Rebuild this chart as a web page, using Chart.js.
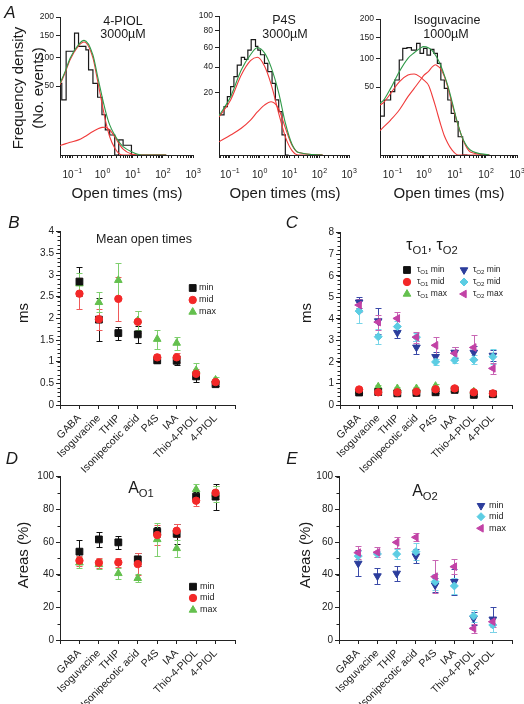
<!DOCTYPE html>
<html>
<head>
<meta charset="utf-8">
<title>Open time distributions</title>
<script src="https://cdn.jsdelivr.net/npm/chart.js@4"></script>
<style>
  body { margin: 0; width: 524px; height: 704px; position: relative; overflow: hidden; background: #fff;
         font-family: "Liberation Sans", Arial, sans-serif; color: #1a1a1a; }
  canvas { position: absolute; }
  .lbl { position: absolute; white-space: nowrap; transform: translate(-50%, -50%); line-height: 1; }
  .rot { transform: translate(-50%, -50%) rotate(-90deg); }
  .panel { font-style: italic; font-size: 17px; }
  .big { font-size: 15px; }
  sub { font-size: 0.7em; vertical-align: -0.35em; line-height: 0; }
</style>
</head>
<body>
<canvas id="histPiol" width="205" height="185" style="left:0;top:0"></canvas>
<canvas id="histP4s" width="190" height="185" style="left:170px;top:0"></canvas>
<canvas id="histIso" width="184" height="185" style="left:340px;top:0"></canvas>
<canvas id="chartB" width="262" height="280" style="left:0;top:200px"></canvas>
<canvas id="chartC" width="262" height="280" style="left:262px;top:200px"></canvas>
<canvas id="chartD" width="262" height="234" style="left:0;top:470px"></canvas>
<canvas id="chartE" width="262" height="234" style="left:262px;top:470px"></canvas>

<div class="lbl panel" style="left:10px;top:12px">A</div>
<div class="lbl" style="left:123px;top:21px;font-size:12.5px">4-PIOL</div>
<div class="lbl" style="left:123px;top:34px;font-size:12.5px">3000µM</div>
<div class="lbl" style="left:284px;top:20px;font-size:12.5px">P4S</div>
<div class="lbl" style="left:285px;top:34px;font-size:12.5px">3000µM</div>
<div class="lbl" style="left:447px;top:20px;font-size:12.5px">Isoguvacine</div>
<div class="lbl" style="left:446px;top:34px;font-size:12.5px">1000µM</div>
<div class="lbl rot big" style="left:17px;top:88px">Frequency density</div>
<div class="lbl rot big" style="left:37px;top:88px">(No. events)</div>
<div class="lbl big" style="left:127px;top:192px">Open times (ms)</div>
<div class="lbl big" style="left:285px;top:192px">Open times (ms)</div>
<div class="lbl big" style="left:449px;top:192px">Open times (ms)</div>

<div class="lbl panel" style="left:14px;top:222px">B</div>
<div class="lbl panel" style="left:292px;top:222px">C</div>
<div class="lbl" style="left:144px;top:239px;font-size:12.5px">Mean open times</div>
<div class="lbl" style="left:432px;top:245px;font-size:16px">τ<sub>O1</sub>, τ<sub>O2</sub></div>
<div class="lbl rot big" style="left:22px;top:313px">ms</div>
<div class="lbl rot big" style="left:305px;top:313px">ms</div>

<div class="lbl panel" style="left:12px;top:458px">D</div>
<div class="lbl panel" style="left:292px;top:458px">E</div>
<div class="lbl" style="left:141px;top:488px;font-size:16px">A<sub>O1</sub></div>
<div class="lbl" style="left:425px;top:491px;font-size:16px">A<sub>O2</sub></div>
<div class="lbl rot big" style="left:22px;top:555px">Areas (%)</div>
<div class="lbl rot big" style="left:304px;top:555px">Areas (%)</div>

<script>
Chart.defaults.font.family = '"Liberation Sans", Arial, sans-serif';
Chart.defaults.color = '#222';

// ---- Panel A: open time histograms (bin edges in ms, counts) and fitted curves
const decades = [-1, 0, 1, 2, 3];

const piolEdges = [0.04, 0.0458, 0.0638, 0.0867, 0.121, 0.164, 0.287, 0.352, 0.491, 0.702, 0.977, 1.26, 1.76, 2.58, 3.5, 4.88, 6.62, 9.22, 13.2];
const piolCounts = [64, 54, 32, 113, 113, 156, 124, 116, 76, 54, 35, 17, 6.6, 4.2, 0, 2.4, 1, 1];
const piolFitT = [0.04, 0.059, 0.087, 0.164, 0.25, 0.49, 0.70, 0.98, 1.26, 1.76, 2.58, 3.5, 4.88, 9.2, 20, 130];
const piolTotal = [54, 73, 99, 128, 138, 105, 65, 36, 21, 9.5, 4.2, 1.9, 0.73, 0.12, 0, 0];
const piolFast = [52, 71, 96, 125, 134, 99, 58, 28, 12.9, 3.5, 0.5, 0.03, 0, 0, 0, 0];
const piolSlow = [0.9, 1.3, 1.7, 2.4, 3.4, 5.8, 7.1, 8.0, 8.1, 6.6, 3.5, 1.45, 0.35, 0.01, 0, 0];

const p4sEdges = [0.045, 0.065, 0.084, 0.108, 0.139, 0.18, 0.245, 0.316, 0.408, 0.527, 0.736, 0.88, 1.08, 1.47, 1.90, 2.64, 3.41, 4.41, 5.70, 7.36, 9.5];
const p4sCounts = [6.3, 8.3, 12.1, 17.6, 24.2, 31.8, 41.9, 49.4, 47.4, 57, 69, 61, 57, 52, 43.5, 36, 26.6, 15.7, 9.7, 2.1];
const p4sFitT = [0.044, 0.108, 0.245, 0.5, 0.85, 1.47, 2.45, 4.41, 7.36, 12.3, 20.6, 130];
const p4sTotal = [8, 17.6, 37.4, 52, 59.5, 54, 40, 20, 5.3, 0.6, 0.03, 0];
const p4sFast = [7.5, 15.7, 33.1, 46, 49.4, 41, 26, 9, 1.7, 0.1, 0, 0];
const p4sSlow = [0.9, 2.07, 3.7, 6.3, 9.6, 12.9, 14.7, 11, 3.8, 0.5, 0.03, 0];

const isoEdges = [0.041, 0.055, 0.0877, 0.119, 0.166, 0.215, 0.293, 0.407, 0.598, 0.773, 1.0, 1.29, 1.67, 2.15, 2.78, 3.59, 4.64, 6.0, 7.74, 10, 12.9, 18, 25.7];
const isoCounts = [30.8, 16.4, 32.7, 43.4, 60.8, 97.6, 123, 124.5, 119, 134.8, 111.8, 123, 108, 120.7, 111.8, 90.9, 60.8, 48, 32.7, 18.8, 12, 3.6];
const isoFitT = [0.04, 0.0527, 0.0877, 0.166, 0.316, 0.5, 0.773, 1.0, 1.47, 1.9, 2.45, 2.78, 3.59, 4.64, 6.0, 7.74, 12.9, 19, 31.6, 130];
const isoTotal = [29, 32.7, 48, 75, 101, 113, 123, 127, 124, 118, 107, 101, 86, 69, 52, 34.7, 9.7, 2.4, 0.27, 0];
const isoFast = [27, 30, 41, 58, 69, 71, 66, 61, 52, 38, 25, 19, 9.7, 4, 1.5, 0.4, 0, 0, 0, 0];
const isoSlow = [6.5, 8.5, 13.2, 21.9, 36.8, 48, 60, 68, 76, 84, 88, 86, 80, 67, 50, 32, 9.5, 2.2, 0.1, 0];

// ---- Panels B-E: per-agonist means and error bars (min / mid / max concentration)
const drugs = ['GABA', 'Isoguvacine', 'THIP', 'Isonipecotic acid', 'P4S', 'IAA', 'Thio-4-PIOL', '4-PIOL'];

const meanMin = [2.85, 1.97, 1.66, 1.63, 1.03, 1.02, 0.66, 0.48];
const meanMinErr = [0.34, 0.5, 0.15, 0.2, 0.05, 0.1, 0.12, 0.05];
const meanMid = [2.57, 1.98, 2.45, 1.92, 1.1, 1.1, 0.72, 0.53];
const meanMidErr = [0.35, 0.24, 0.5, 0.25, 0.08, 0.1, 0.1, 0.05];
const meanMax = [2.8, 2.37, 2.88, 1.95, 1.52, 1.43, 0.8, 0.58];
const meanMaxErr = [0.25, 0.23, 0.4, 0.22, 0.22, 0.15, 0.17, 0.07];

const tau1Min = [0.58, 0.6, 0.54, 0.56, 0.59, 0.7, 0.47, 0.5];
const tau1MinErr = [0.06, 0.05, 0.05, 0.05, 0.05, 0.05, 0.05, 0.04];
const tau1Mid = [0.72, 0.59, 0.59, 0.62, 0.73, 0.77, 0.59, 0.54];
const tau1MidErr = [0.07, 0.06, 0.06, 0.06, 0.07, 0.06, 0.06, 0.05];
const tau1Max = [0.65, 0.85, 0.77, 0.77, 0.88, 0.73, 0.62, 0.5];
const tau1MaxErr = [0.08, 0.08, 0.07, 0.08, 0.09, 0.07, 0.07, 0.05];
const tau2Min = [4.77, 3.9, 3.36, 2.68, 2.24, 2.44, 2.44, 2.3];
const tau2MinErr = [0.25, 0.6, 0.25, 0.3, 0.2, 0.25, 0.3, 0.25];
const tau2Mid = [4.36, 3.17, 3.64, 3.15, 2.0, 2.08, 2.1, 2.24];
const tau2MidErr = [0.55, 0.35, 0.25, 0.2, 0.15, 0.15, 0.2, 0.35];
const tau2Max = [4.64, 3.85, 4.02, 3.15, 2.77, 2.4, 2.67, 1.7];
const tau2MaxErr = [0.3, 0.35, 0.3, 0.25, 0.4, 0.3, 0.6, 0.25];

const a1Min = [54.1, 61.6, 59.8, 49.4, 66.3, 65, 87.8, 87.8];
const a1MinErr = [7, 4.5, 4, 4, 3, 6, 3, 8];
const a1Mid = [48.6, 47.3, 47.5, 46.5, 64.3, 66.9, 85.3, 90.2];
const a1MidErr = [3, 3, 3, 7, 6, 4, 3, 4];
const a1Max = [47.3, 46.3, 40.8, 37.8, 61.6, 56.1, 92.2, 89.4];
const a1MaxErr = [3.5, 3, 3.5, 2.5, 10, 5, 3.5, 5];

const a2Min = [46.9, 39.2, 40.8, 51.4, 33.6, 35.7, 13.3, 12.7];
const a2MinErr = [8, 5, 4.5, 4.5, 4.5, 8, 4, 7.5];
const a2Mid = [51.4, 52.7, 52.6, 54.1, 35.7, 33.1, 14.7, 9.2];
const a2MidErr = [3, 2, 3, 5, 5, 5, 3.5, 4];
const a2Max = [53.5, 53.7, 59.8, 62.9, 38.8, 44.9, 7.1, 11.2];
const a2MaxErr = [4, 3, 3.5, 2.5, 10, 4.5, 3, 3];

const FIT_GREEN = '#2f9a48', FIT_RED = '#f03a3a';
const BLACK = '#111111', RED = '#f32828', GREEN = '#64c04e';
const NAVY = '#2c3d9c', CYAN = '#5ccde3', MAGENTA = '#c242a6';

// square-root y scale for the histograms
class SqrtScale extends Chart.LinearScale {
  getPixelForValue(value) {
    if (value === null || value === undefined || isNaN(value)) return NaN;
    const lo = Math.sqrt(this.min), hi = Math.sqrt(this.max);
    return this.getPixelForDecimal((Math.sqrt(Math.max(0, value)) - lo) / (hi - lo));
  }
  getValueForPixel(pixel) {
    const lo = Math.sqrt(this.min), hi = Math.sqrt(this.max);
    const s = lo + this.getDecimalForPixel(pixel) * (hi - lo);
    return s * s;
  }
}
SqrtScale.id = 'sqrt';
Chart.register(SqrtScale);

const FONT = '"Liberation Sans", Arial, sans-serif';

// "10" with a raised exponent under each decade of a log axis
const decadeLabels = {
  id: 'decadeLabels',
  afterDraw(chart, args, opts) {
    const x = chart.scales.x, ctx = chart.ctx;
    ctx.save();
    ctx.fillStyle = '#222';
    ctx.textBaseline = 'alphabetic';
    opts.powers.forEach(p => {
      const px = x.getPixelForValue(Math.pow(10, p));
      const sup = String(p).replace('-', '\u2212');
      ctx.font = '10px ' + FONT;
      const w1 = ctx.measureText('10').width;
      ctx.font = '7px ' + FONT;
      const w2 = ctx.measureText(sup).width;
      const left = px - (w1 + w2) / 2;
      ctx.font = '10px ' + FONT;
      ctx.fillText('10', left, opts.y);
      ctx.font = '7px ' + FONT;
      ctx.fillText(sup, left + w1 + 0.5, opts.y - 5.5);
    });
    ctx.restore();
  }
};

// short unlabeled ticks between the labeled ones on the y axis
const minorTicks = {
  id: 'minorTicks',
  afterDraw(chart, args, opts) {
    if (!opts.step) return;
    const y = chart.scales.y, ctx = chart.ctx;
    const n = Math.round((y.max - y.min) / opts.step);
    ctx.save();
    ctx.strokeStyle = '#222';
    ctx.lineWidth = 1;
    ctx.beginPath();
    for (let i = 0; i <= n; i++) {
      const py = Math.round(y.getPixelForValue(y.min + i * opts.step)) + 0.5;
      ctx.moveTo(y.right - 2.5, py);
      ctx.lineTo(y.right, py);
    }
    ctx.stroke();
    ctx.restore();
  }
};

const errorBars = {
  id: 'errorBars',
  beforeDatasetsDraw(chart) {
    const {ctx, scales: {x, y}} = chart;
    chart.data.datasets.forEach(ds => {
      if (!ds.errors) return;
      ctx.save();
      ctx.strokeStyle = ds.errColor;
      ctx.lineWidth = 1;
      ctx.beginPath();
      ds.data.forEach((pt, i) => {
        const e = ds.errors[i];
        const px = Math.round(x.getPixelForValue(pt.x)) + 0.5;
        const top = Math.round(y.getPixelForValue(pt.y + e)) + 0.5;
        const bot = Math.round(y.getPixelForValue(pt.y - e)) + 0.5;
        ctx.moveTo(px, top); ctx.lineTo(px, bot);
        ctx.moveTo(px - 3, top); ctx.lineTo(px + 3, top);
        ctx.moveTo(px - 3, bot); ctx.lineTo(px + 3, bot);
      });
      ctx.stroke();
      ctx.restore();
    });
  }
};

function drawRich(ctx, text, x, y, size) {
  ctx.textBaseline = 'middle';
  text.split(/(_\{[^}]*\})/).forEach(part => {
    if (!part) return;
    const sub = part.startsWith('_{');
    const s = sub ? part.slice(2, -1) : part;
    ctx.font = (sub ? size * 0.72 : size) + 'px ' + FONT;
    ctx.fillText(s, x, sub ? y + size * 0.3 : y);
    x += ctx.measureText(s).width;
  });
}

const inlineLegend = {
  id: 'inlineLegend',
  afterDraw(chart, args, opts) {
    const ctx = chart.ctx;
    (opts.items || []).forEach(it => {
      const ds = chart.data.datasets[it.ds];
      ctx.save();
      ctx.fillStyle = ds.backgroundColor;
      ctx.strokeStyle = ds.borderColor;
      ctx.lineWidth = 1;
      Chart.helpers.drawPoint(ctx, {pointStyle: ds.pointStyle, rotation: ds.pointRotation, radius: ds.pointRadius, borderWidth: 1}, it.x, it.y);
      ctx.fillStyle = '#222';
      drawRich(ctx, it.text, it.tx, it.y, opts.font);
      ctx.restore();
    });
  }
};

function makeHist(id, h) {
  const bars = [{x: h.edges[0], y: 0}];
  h.counts.forEach((n, i) => bars.push({x: h.edges[i], y: n}));
  bars.push({x: h.edges[h.edges.length - 1], y: 0});
  const curve = (vals, color) => ({
    data: h.fitT.map((t, i) => ({x: t, y: vals[i]})),
    borderColor: color, borderWidth: 1.1, pointRadius: 0, cubicInterpolationMode: 'monotone', fill: false
  });
  new Chart(document.getElementById(id), {
    type: 'line',
    data: {datasets: [
      curve(h.total, FIT_GREEN), curve(h.fast, FIT_RED), curve(h.slow, FIT_RED),
      {data: bars, stepped: 'after', borderColor: '#1a1a1a', borderWidth: 1.2, pointRadius: 0, fill: false}
    ]},
    options: {
      responsive: false, animation: false, events: [],
      layout: {padding: {top: h.top, right: h.right, left: 0, bottom: 0}},
      plugins: {legend: {display: false}, tooltip: {enabled: false}, decadeLabels: {powers: decades, y: 178}},
      scales: {
        x: {type: 'logarithmic', min: h.xmin, max: 1000,
            border: {color: '#222'}, grid: {drawOnChartArea: false, color: '#222', tickLength: 3},
            ticks: {autoSkip: false, maxRotation: 0, callback: () => ''},
            afterFit: s => { s.height = 30; s.paddingLeft = 0; s.paddingRight = 0; }},
        y: {type: 'sqrt', min: 0, max: h.ymax,
            afterBuildTicks: s => { s.ticks = h.yticks.map(v => ({value: v})); },
            border: {color: '#222'}, grid: {drawOnChartArea: false, color: '#222', tickLength: 4},
            ticks: {font: {size: 8.5}, padding: 2, autoSkip: false},
            afterFit: s => { s.width = h.axisX; s.paddingTop = 0; s.paddingBottom = 0; }}
      }
    },
    plugins: [decadeLabels]
  });
}

function makeScatter(id, p) {
  new Chart(document.getElementById(id), {
    type: 'scatter',
    data: {datasets: p.sets.map(s => ({
      data: s.values.map((v, i) => ({x: i, y: v})),
      errors: s.errors, errColor: s.errColor, order: s.order || 0,
      pointStyle: s.style, pointRotation: s.rotation || 0, pointRadius: s.radius,
      backgroundColor: s.color, borderColor: s.color, pointBorderWidth: 1
    }))},
    options: {
      responsive: false, animation: false, events: [],
      layout: {padding: {top: p.top, right: p.right, left: 0, bottom: 0}},
      plugins: {
        legend: {display: false}, tooltip: {enabled: false},
        minorTicks: {step: p.minor},
        inlineLegend: {items: p.legend, font: p.legendFont}
      },
      scales: {
        x: {type: 'linear', min: -1, max: 8,
            ticks: {stepSize: 1, autoSkip: false, minRotation: 45, maxRotation: 45, font: {size: 10.5},
                    padding: 3, callback: v => drugs[v] || ''},
            border: {color: '#222'}, grid: {drawOnChartArea: false, color: '#222', tickLength: 4},
            afterFit: s => { s.height = p.xh; s.paddingLeft = 0; s.paddingRight = 0; }},
        y: {min: 0, max: p.ymax,
            ticks: {stepSize: p.ystep, font: {size: 10}, padding: 2, autoSkip: false,
                    callback: v => String(Number(v.toFixed(2)))},
            border: {color: '#222'}, grid: {drawOnChartArea: false, color: '#222', tickLength: 4},
            afterFit: s => { s.width = p.yw; s.paddingTop = 0; s.paddingBottom = 0; }}
      }
    },
    plugins: [errorBars, minorTicks, inlineLegend]
  });
}

makeHist('histPiol', {edges: piolEdges, counts: piolCounts, fitT: piolFitT, total: piolTotal, fast: piolFast, slow: piolSlow,
  xmin: 0.04, ymax: 200, yticks: [50, 100, 150, 200], axisX: 60, top: 17, right: 12});
makeHist('histP4s', {edges: p4sEdges, counts: p4sCounts, fitT: p4sFitT, total: p4sTotal, fast: p4sFast, slow: p4sSlow,
  xmin: 0.044, ymax: 100, yticks: [20, 40, 60, 80, 100], axisX: 49, top: 16, right: 11});
makeHist('histIso', {edges: isoEdges, counts: isoCounts, fitT: isoFitT, total: isoTotal, fast: isoFast, slow: isoSlow,
  xmin: 0.04, ymax: 200, yticks: [50, 100, 150, 200], axisX: 40, top: 19, right: 7});

const minSet = (values, errors) => ({values, errors, style: 'rect', radius: 4.8, color: BLACK, errColor: BLACK, order: 1});
const midSet = (values, errors) => ({values, errors, style: 'circle', radius: 3.7, color: RED, errColor: '#ef5a5a', order: 0});
const maxSet = (values, errors) => ({values, errors, style: 'triangle', radius: 4.4, color: GREEN, errColor: '#7fcf6e', order: 2});
const minSet2 = (values, errors) => ({values, errors, style: 'triangle', rotation: 180, radius: 4.4, color: NAVY, errColor: '#3a4aa8', order: 2});
const midSet2 = (values, errors) => ({values, errors, style: 'rectRot', radius: 4, color: CYAN, errColor: '#78d5e8', order: 1});
const maxSet2 = (values, errors) => ({values, errors, style: 'triangle', rotation: -90, radius: 4.4, color: MAGENTA, errColor: '#c866b4', order: 0});

makeScatter('chartB', {
  sets: [minSet(meanMin, meanMinErr), midSet(meanMid, meanMidErr), maxSet(meanMax, meanMaxErr)],
  ymax: 4, ystep: 0.5, minor: 0.1, yw: 60, top: 31.7, right: 27, xh: 75, legendFont: 9,
  legend: [
    {ds: 0, x: 192.7, y: 88, tx: 199, text: 'min'},
    {ds: 1, x: 192.7, y: 100, tx: 199, text: 'mid'},
    {ds: 2, x: 192.7, y: 112, tx: 199, text: 'max'}
  ]
});

makeScatter('chartC', {
  sets: [minSet(tau1Min, tau1MinErr), midSet(tau1Mid, tau1MidErr), maxSet(tau1Max, tau1MaxErr),
         minSet2(tau2Min, tau2MinErr), midSet2(tau2Mid, tau2MidErr), maxSet2(tau2Max, tau2MaxErr)],
  ymax: 8, ystep: 1, minor: 0.2, yw: 78, top: 32.7, right: 12, xh: 75, legendFont: 8.5,
  legend: [
    {ds: 0, x: 145, y: 70, tx: 155, text: 'τ_{O1} min'},
    {ds: 1, x: 145, y: 82, tx: 155, text: 'τ_{O1} mid'},
    {ds: 2, x: 145, y: 94, tx: 155, text: 'τ_{O1} max'},
    {ds: 3, x: 202, y: 70, tx: 211, text: 'τ_{O2} min'},
    {ds: 4, x: 202, y: 82, tx: 211, text: 'τ_{O2} mid'},
    {ds: 5, x: 202, y: 94, tx: 211, text: 'τ_{O2} max'}
  ]
});

makeScatter('chartD', {
  sets: [minSet(a1Min, a1MinErr), midSet(a1Mid, a1MidErr), maxSet(a1Max, a1MaxErr)],
  ymax: 100, ystep: 20, minor: 10, yw: 60, top: 6.7, right: 27, xh: 64, legendFont: 9,
  legend: [
    {ds: 0, x: 193, y: 116.7, tx: 200, text: 'min'},
    {ds: 1, x: 193, y: 128, tx: 200, text: 'mid'},
    {ds: 2, x: 193, y: 140, tx: 200, text: 'max'}
  ]
});

makeScatter('chartE', {
  sets: [minSet2(a2Min, a2MinErr), midSet2(a2Mid, a2MidErr), maxSet2(a2Max, a2MaxErr)],
  ymax: 100, ystep: 20, minor: 10, yw: 77, top: 6.7, right: 12, xh: 64, legendFont: 9,
  legend: [
    {ds: 0, x: 219, y: 35.7, tx: 227, text: 'min'},
    {ds: 1, x: 219, y: 46.7, tx: 227, text: 'mid'},
    {ds: 2, x: 219, y: 58.3, tx: 227, text: 'max'}
  ]
});
</script>
</body>
</html>
